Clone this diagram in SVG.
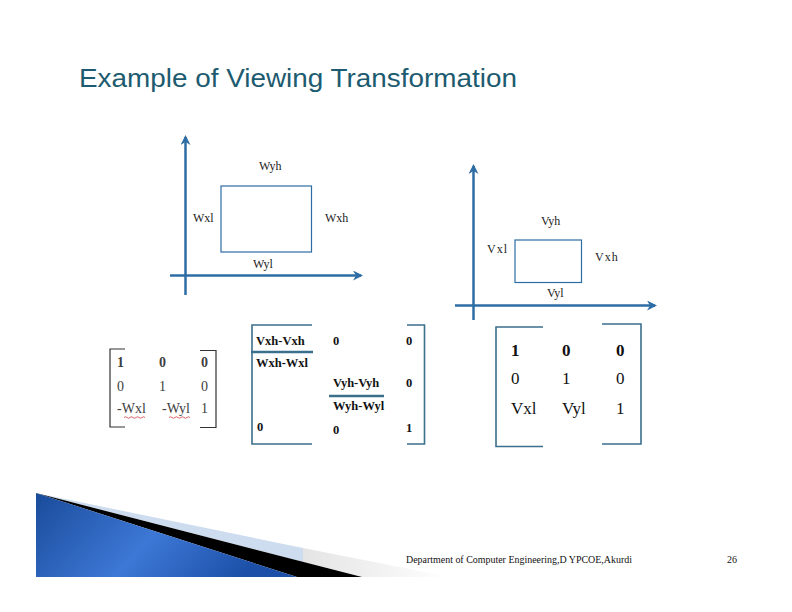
<svg xmlns="http://www.w3.org/2000/svg" width="792" height="612" viewBox="0 0 792 612">
<defs>
<style>
.lbl{font-family:"Liberation Serif",serif;font-size:12px;fill:#222}
.ax{stroke:#2e6da4;stroke-width:2.5;fill:none}
.box{stroke:#2e6da4;stroke-width:1.2;fill:none}
.m1{font-family:"Liberation Serif",serif;font-size:14px;fill:#404040}
.m2{font-family:"Liberation Serif",serif;font-size:12.5px;font-weight:bold;fill:#111}
.m3{font-family:"Liberation Serif",serif;font-size:17px;fill:#111}
.br{stroke:#3b6f8c;stroke-width:1.6;fill:none}
.br1{stroke:#333;stroke-width:1.2;fill:none}
.bar{stroke:#3b6f8c;stroke-width:2.5}
.foot{font-family:"Liberation Serif",serif;font-size:10px;fill:#111}
</style>
<marker id="arr" viewBox="0 0 10 10" refX="8" refY="5" markerWidth="4" markerHeight="4" orient="auto" markerUnits="strokeWidth">
<path d="M0,0 L10,5 L0,10 L3,5 Z" fill="#2e6da4"/>
</marker>
<linearGradient id="blue" x1="0" y1="0" x2="1" y2="0.3">
<stop offset="0" stop-color="#1a4b9a"/>
<stop offset="0.55" stop-color="#3d78d6"/>
<stop offset="1" stop-color="#1c50a8"/>
</linearGradient>
<linearGradient id="gray" x1="0" y1="0" x2="1" y2="0">
<stop offset="0" stop-color="#e4e4e4"/>
<stop offset="1" stop-color="#ffffff"/>
</linearGradient>
</defs>
<rect width="792" height="612" fill="#ffffff"/>
<text x="79" y="87" font-family="Liberation Sans, Arial, sans-serif" font-size="26" fill="#1d5b70" textLength="438" lengthAdjust="spacingAndGlyphs">Example of Viewing Transformation</text>

<g id="connectors">
<line class="ax" x1="185.5" y1="295" x2="185.5" y2="137" marker-end="url(#arr)"/>
<line class="ax" x1="170" y1="275.5" x2="361" y2="275.5" marker-end="url(#arr)"/>
<line class="ax" x1="473.5" y1="320" x2="473.5" y2="166" marker-end="url(#arr)"/>
<line class="ax" x1="455" y1="305.5" x2="655" y2="305.5" marker-end="url(#arr)"/>
</g>

<g id="window">
<rect class="box" x="221" y="186" width="90.5" height="66"/>
<text class="lbl" x="259" y="170">Wyh</text>
<text class="lbl" x="193" y="222">Wxl</text>
<text class="lbl" x="325" y="222">Wxh</text>
<text class="lbl" x="253" y="268">Wyl</text>
</g>

<g id="viewport">
<rect class="box" x="515" y="240" width="66.5" height="42.5"/>
<text class="lbl" x="541" y="225">Vyh</text>
<text class="lbl" x="487" y="253" letter-spacing="1">Vxl</text>
<text class="lbl" x="595" y="261" letter-spacing="1">Vxh</text>
<text class="lbl" x="547" y="297">Vyl</text>
</g>

<g id="matrix1">
<path class="br1" d="M125,349 H110 V427 H125"/>
<path class="br1" d="M200,350.5 H216 V427.5 H200"/>
<text class="m1" x="117" y="367" font-weight="bold">1</text>
<text class="m1" x="159" y="367" font-weight="bold">0</text>
<text class="m1" x="201" y="367" font-weight="bold">0</text>
<text class="m1" x="117" y="391">0</text>
<text class="m1" x="159" y="391">1</text>
<text class="m1" x="201" y="391">0</text>
<text class="m1" x="117" y="413">-Wxl</text>
<text class="m1" x="162" y="413">-Wyl</text>
<text class="m1" x="201" y="413">1</text>
<path d="M124,417.5 q1.5,-1.5 3,0 t3,0 t3,0 t3,0 t3,0 t3,0 t3,0" stroke="#d04040" stroke-width="0.8" fill="none"/>
<path d="M169,417.5 q1.5,-1.5 3,0 t3,0 t3,0 t3,0 t3,0 t3,0 t3,0" stroke="#d04040" stroke-width="0.8" fill="none"/>
</g>

<g id="matrix2">
<path class="br" d="M312,325 H252 V444 H312"/>
<path class="br" d="M407,325 H424.5 V444 H407"/>
<text class="m2" x="256" y="345">Vxh-Vxh</text>
<line class="bar" x1="251" y1="352" x2="313" y2="352"/>
<text class="m2" x="256" y="367">Wxh-Wxl</text>
<text class="m2" x="333" y="345">0</text>
<text class="m2" x="406" y="345">0</text>
<text class="m2" x="333" y="387">Vyh-Vyh</text>
<text class="m2" x="406" y="387">0</text>
<line class="bar" x1="329" y1="396" x2="384" y2="396"/>
<text class="m2" x="333" y="410">Wyh-Wyl</text>
<text class="m2" x="257" y="431">0</text>
<text class="m2" x="333" y="434">0</text>
<text class="m2" x="406" y="432">1</text>
</g>

<g id="matrix3">
<path class="br" d="M543,327 H496 V446.5 H543"/>
<path class="br" d="M602,324 H641 V444 H602"/>
<text class="m3" x="511" y="356" font-weight="bold">1</text>
<text class="m3" x="562" y="356" font-weight="bold">0</text>
<text class="m3" x="616" y="356" font-weight="bold">0</text>
<text class="m3" x="511" y="384">0</text>
<text class="m3" x="562" y="384">1</text>
<text class="m3" x="616" y="384">0</text>
<text class="m3" x="511" y="414">Vxl</text>
<text class="m3" x="562" y="414">Vyl</text>
<text class="m3" x="616" y="414">1</text>
</g>

<g id="footer-decoration">
<polygon points="303,548 450,577 362,577 303,562" fill="url(#gray)"/>
<polygon points="36,493 303,548 303,562" fill="#cddcee"/>
<polygon points="36,493 362,577 297,577" fill="#000"/>
<polygon points="36,493 297,577 36,577" fill="url(#blue)"/>
</g>
<text class="foot" x="406" y="563" textLength="226" lengthAdjust="spacingAndGlyphs">Department of Computer Engineering,D YPCOE,Akurdi</text>
<text class="foot" x="727" y="563">26</text>
</svg>
